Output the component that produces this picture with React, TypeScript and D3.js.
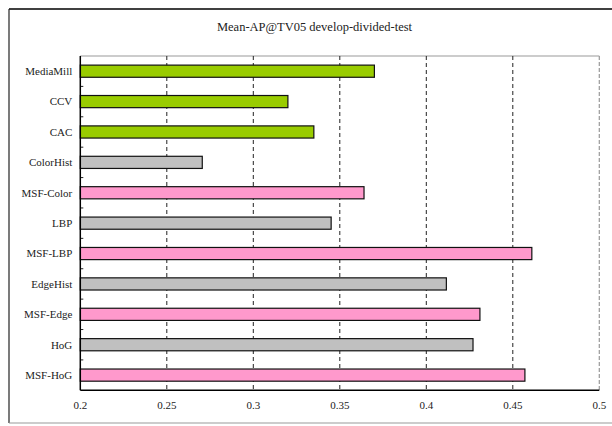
import React from "react";
import * as d3 from "d3";

const methods = [
  "MediaMill",
  "CCV",
  "CAC",
  "ColorHist",
  "MSF-Color",
  "LBP",
  "MSF-LBP",
  "EdgeHist",
  "MSF-Edge",
  "HoG",
  "MSF-HoG",
];
const meanAP = [0.37, 0.32, 0.335, 0.2705, 0.364, 0.345, 0.461, 0.4116, 0.431, 0.427, 0.457];
const groups = ["base", "base", "base", "plain", "msf", "plain", "msf", "plain", "msf", "plain", "msf"];
const xTicks = [0.2, 0.25, 0.3, 0.35, 0.4, 0.45, 0.5];

const groupColor: Record<string, string> = {
  base: "#99cc00",
  plain: "#c0c0c0",
  msf: "#ff99cc",
};

const W = 612;
const H = 426;
const margin = { top: 56, right: 12.7, bottom: 35.7, left: 80.3 };

export default function App() {
  const innerW = W - margin.left - margin.right;
  const innerH = H - margin.top - margin.bottom;

  const x = d3.scaleLinear().domain([0.2, 0.5]).range([0, innerW]);
  const y = d3.scaleBand<string>().domain(methods).range([0, innerH]).paddingInner(0.6).paddingOuter(0.3);
  const step = y.step();
  const fmt = (v: number) => String(+v.toFixed(2));

  return (
    <div style={{ position: "absolute", left: 0, top: 0 }}>
      <svg width={W} height={H} style={{ display: "block", fontFamily: "'Liberation Serif', 'Times New Roman', serif" }}>
        <rect x={0} y={0} width={W} height={H} fill="#fff" />
        {/* outer frame */}
        <line x1={9} x2={W} y1={9} y2={9} stroke="#000" strokeWidth={1.5} />
        <line x1={9} x2={9} y1={9} y2={423} stroke="#222" strokeWidth={1.2} />
        <line x1={9} x2={W} y1={423} y2={423} stroke="#999" strokeWidth={1.2} />

        <text x={314.5} y={31} textAnchor="middle" fontSize={12.5} fill="#222">
          Mean-AP@TV05 develop-divided-test
        </text>

        <g transform={`translate(${margin.left},${margin.top})`}>
          {/* plot border top and right */}
          <line x1={0} x2={innerW} y1={0} y2={0} stroke="#999" strokeWidth={1.2} />
          <line x1={innerW} x2={innerW} y1={0} y2={innerH} stroke="#999" strokeWidth={1.2} strokeDasharray="4,2" />

          {/* gridlines */}
          {xTicks.slice(1, -1).map((t) => (
            <line key={t} x1={x(t)} x2={x(t)} y1={0} y2={innerH} stroke="#222" strokeWidth={1} strokeDasharray="4,3" />
          ))}

          {/* bars */}
          {methods.map((m, i) => (
            <rect
              key={m}
              x={0}
              y={y(m)}
              width={x(meanAP[i])}
              height={y.bandwidth()}
              fill={groupColor[groups[i]]}
              stroke="#111"
              strokeWidth={1.2}
            />
          ))}

          {/* category boundary ticks */}
          {methods.slice(1).map((m, i) => (
            <line key={m} x1={0} x2={3} y1={step * (i + 1)} y2={step * (i + 1)} stroke="#222" strokeWidth={1} />
          ))}

          {/* axes */}
          <line x1={0} x2={0} y1={0} y2={innerH} stroke="#000" strokeWidth={1.5} />
          <line x1={0} x2={innerW} y1={innerH} y2={innerH} stroke="#000" strokeWidth={1.5} />

          {/* labels */}
          {methods.map((m) => (
            <text
              key={m}
              x={-8}
              y={(y(m) ?? 0) + y.bandwidth() / 2}
              dy="0.35em"
              textAnchor="end"
              fontSize={11}
              fill="#222"
            >
              {m}
            </text>
          ))}
          {xTicks.map((t) => (
            <text key={t} x={x(t)} y={innerH + 19} textAnchor="middle" fontSize={11} fill="#222">
              {fmt(t)}
            </text>
          ))}
        </g>
      </svg>
    </div>
  );
}
